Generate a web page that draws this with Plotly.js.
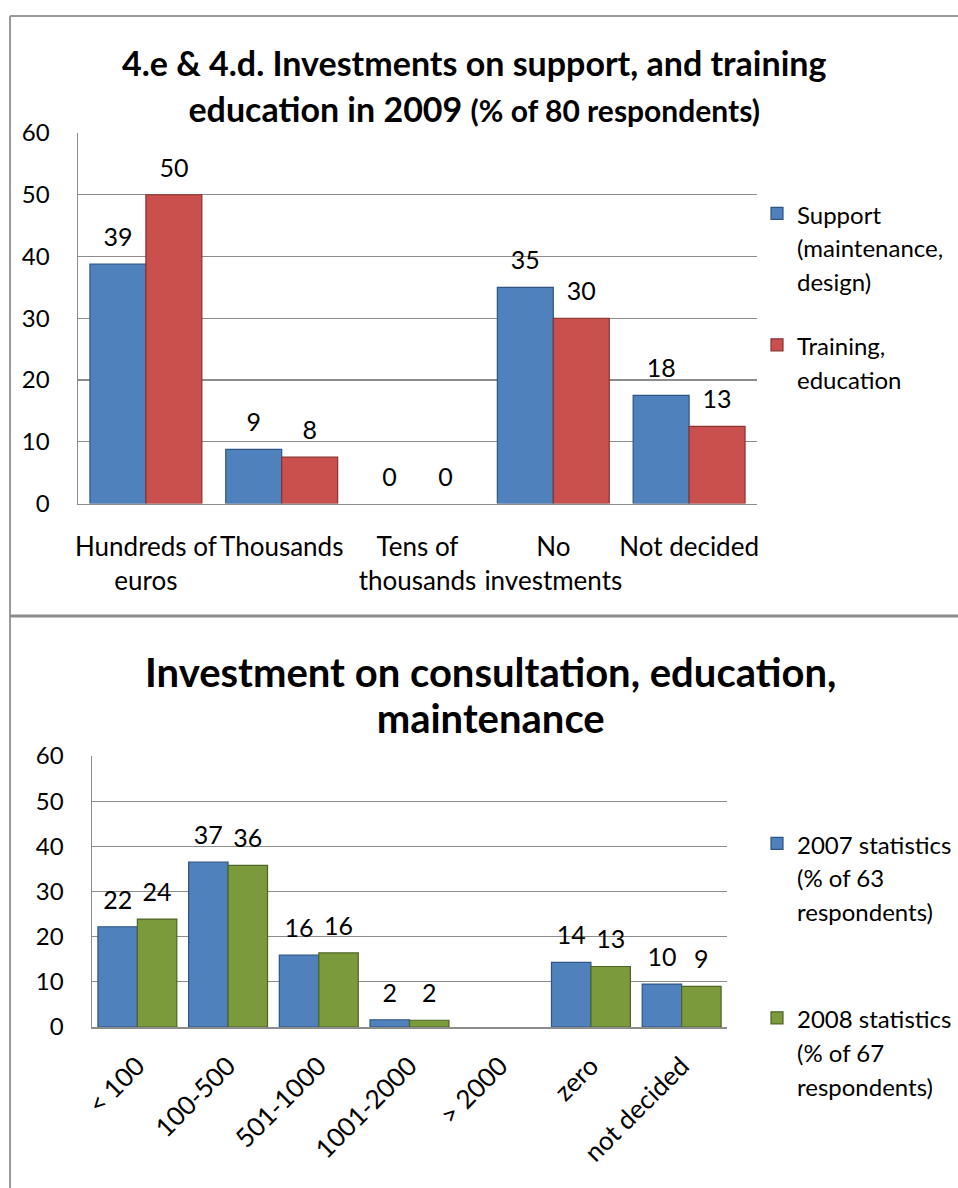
<!DOCTYPE html>
<html>
<head>
<meta charset="utf-8">
<script src="https://cdn.plot.ly/plotly-3.0.1.min.js"></script>
<style>
  html, body { margin: 0; padding: 0; background: #ffffff; }
  #chart { width: 958px; height: 1188px; }
</style>
</head>
<body>
<div id="chart"></div>
<script>
// ---------- DATA ----------
const topCategories = ['Hundreds of euros', 'Thousands', 'Tens of thousands', 'No investments', 'Not decided'];
const topTickLabels = ['Hundreds of<br>euros', 'Thousands', 'Tens of<br>thousands', 'No<br>investments', 'Not decided'];
const supportValues = [38.75, 8.75, 0, 35, 17.5];
const trainingValues = [50, 7.5, 0, 30, 12.5];
const topSeriesNames = ['Support<br>(maintenance,<br>design)', 'Training,<br>education'];
const topTitleMain = '4.e & 4.d. Investments on support, and training<br>education in 2009 ';
const topTitleSub = '(% of 80 respondents)';

const bottomCategories = ['< 100', '100-500', '501-1000', '1001-2000', '> 2000', 'zero', 'not decided'];
const stats2007 = [22.2, 36.5, 15.9, 1.6, null, 14.3, 9.5];
const stats2008 = [23.9, 35.8, 16.4, 1.5, null, 13.4, 9.0];
const bottomSeriesNames = ['2007 statistics<br>(% of 63<br>respondents)', '2008 statistics<br>(% of 67<br>respondents)'];
const bottomTitle = 'Investment on consultation, education,<br>maintenance';

const yTicks = [0, 10, 20, 30, 40, 50, 60];

// ---------- STYLE ----------
const FONT = 'Lato, Carlito, Calibri, sans-serif';
const W = 958, H = 1188;
const px = v => v / W;
const py = v => 1 - v / H;
const GRID = '#8c8c8c';
const BLUE = '#4F81BD', BLUE_D = '#2f5587';
const RED = '#C9504D', RED_D = '#8a3331';
const GREEN = '#7A9A3C', GREEN_D = '#4e6425';

const labelTpl = '<span style="font-size:25px">%{y:.0f}</span><br><span style="color:rgba(0,0,0,0)">.</span>';
const legName = s => '<span style="font-size:24px">' + s + '</span>';

function barTrace(x, y, name, color, line, xa, ya, offset, width, legend, group) {
  return {
    type: 'bar', x: x, y: y, name: legName(name),
    xaxis: xa, yaxis: ya,
    offset: offset, width: width,
    marker: { color: color, line: { color: line, width: y.map(v => (v ? 1.2 : 0)) } },
    texttemplate: labelTpl,
    textposition: 'outside',
    textfont: { size: 10, family: FONT, color: '#000000' },
    cliponaxis: false,
    constraintext: 'none',
    hoverinfo: 'skip',
    legend: legend,
    legendgroup: group
  };
}

const tw = 0.412, bw = 0.435;
const data = [
  barTrace(topCategories, supportValues, topSeriesNames[0], BLUE, BLUE_D, 'x', 'y', -tw, tw, 'legend', 'g1'),
  barTrace(topCategories, trainingValues, topSeriesNames[1], RED, RED_D, 'x', 'y', 0, tw, 'legend', 'g2'),
  barTrace(bottomCategories, stats2007, bottomSeriesNames[0], BLUE, BLUE_D, 'x2', 'y2', -bw, bw, 'legend2', 'g3'),
  barTrace(bottomCategories, stats2008, bottomSeriesNames[1], GREEN, GREEN_D, 'x2', 'y2', 0, bw, 'legend2', 'g4')
];

const xTickFont = { family: FONT, size: 26, color: '#000000' };
const yTickFont = { family: FONT, size: 24, color: '#000000' };

function yAxis(domain, anchor) {
  return {
    domain: domain, anchor: anchor, range: [0, 60], tickvals: yTicks,
    showgrid: true, gridcolor: GRID, gridwidth: 1.3,
    showline: true, linecolor: GRID, linewidth: 1.5,
    zeroline: false, ticks: '', tickfont: yTickFont,
    ticklabelstandoff: 22, fixedrange: true, automargin: false
  };
}

const legendFont = { family: FONT, size: 26, color: '#000000' };

const layout = {
  width: W, height: H,
  margin: { l: 0, r: 0, t: 0, b: 0, autoexpand: false },
  paper_bgcolor: '#ffffff', plot_bgcolor: 'rgba(0,0,0,0)',
  barmode: 'overlay',
  font: { family: FONT, color: '#000000' },
  xaxis: {
    domain: [px(78), px(757)], anchor: 'y', type: 'category',
    tickvals: topCategories, ticktext: topTickLabels, tickangle: 0,
    showline: true, linecolor: GRID, linewidth: 1.5, showgrid: false,
    ticks: '', tickfont: xTickFont, ticklabelstandoff: 20, fixedrange: true, automargin: false
  },
  yaxis: yAxis([py(503.5), py(133)], 'x'),
  xaxis2: {
    domain: [px(92), px(727)], anchor: 'y2', type: 'category',
    tickvals: bottomCategories, ticktext: bottomCategories,
    showline: true, linecolor: GRID, linewidth: 1.5, showgrid: false,
    ticks: '', tickfont: xTickFont, tickangle: -45, ticklabelstandoff: 12, fixedrange: true, automargin: false
  },
  yaxis2: yAxis([py(1027), py(756)], 'x2'),
  showlegend: true,
  legend: {
    x: px(757), xanchor: 'left', y: py(190), yanchor: 'top',
    font: legendFont, valign: 'top', tracegroupgap: 27, itemwidth: 30,
    bgcolor: 'rgba(0,0,0,0)', traceorder: 'grouped'
  },
  legend2: {
    x: px(757), xanchor: 'left', y: py(820), yanchor: 'top',
    font: legendFont, valign: 'top', tracegroupgap: 70, itemwidth: 30,
    bgcolor: 'rgba(0,0,0,0)', traceorder: 'grouped'
  },
  annotations: [
    {
      xref: 'paper', yref: 'paper', x: px(474), y: py(85), xanchor: 'center', yanchor: 'middle',
      showarrow: false, align: 'center',
      text: '<b><span style="font-size:34px">' + topTitleMain + '<span style="font-size:30px">' + topTitleSub + '</span></span></b>',
      font: { family: FONT, size: 35, color: '#000000' }
    },
    {
      xref: 'paper', yref: 'paper', x: px(490), y: py(695), xanchor: 'center', yanchor: 'middle',
      showarrow: false, align: 'center',
      text: '<b><span style="font-size:40px">' + bottomTitle + '</span></b>',
      font: { family: FONT, size: 35, color: '#000000' }
    }
  ],
  shapes: [
    { type: 'line', xref: 'paper', yref: 'paper', x0: px(10), x1: px(10), y0: py(16), y1: 0, line: { color: '#9a9a9a', width: 2 } },
    { type: 'line', xref: 'paper', yref: 'paper', x0: px(10), x1: 1, y0: py(16), y1: py(16), line: { color: '#9a9a9a', width: 2 } },
    { type: 'line', xref: 'paper', yref: 'paper', x0: px(10), x1: 1, y0: py(616), y1: py(616), line: { color: '#8c8c8c', width: 3 } }
  ]
};

Plotly.newPlot('chart', data, layout, { staticPlot: true, displayModeBar: false });
</script>
</body>
</html>
